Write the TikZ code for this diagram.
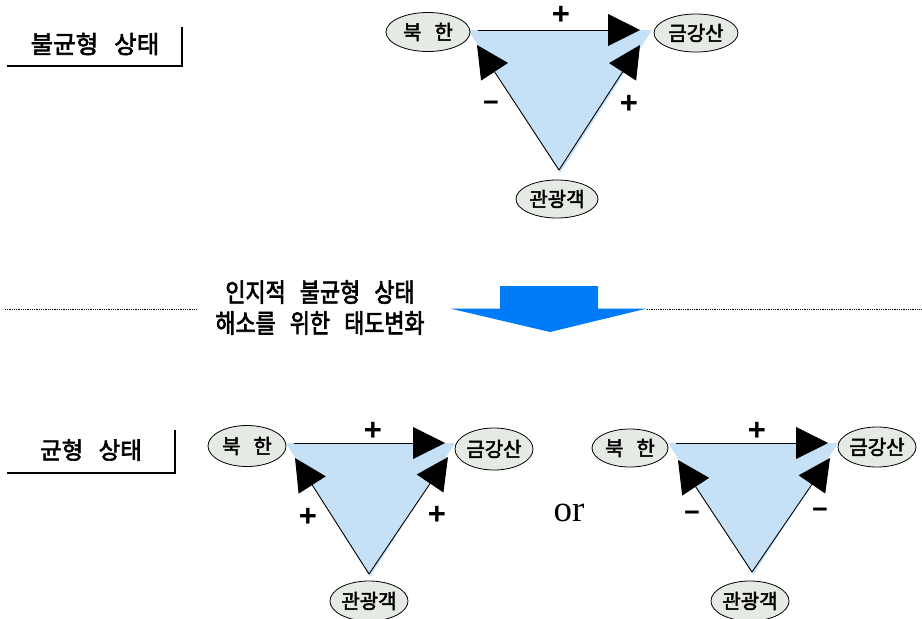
\documentclass[tikz,border=0pt]{standalone}
\usepackage{fontspec}
\newfontfamily\krA{Noto Sans CJK KR}[WordSpace=1.6, FakeBold=2.5]
\newfontfamily\krB{Noto Sans CJK KR}[WordSpace=2.4, FakeBold=2.5]
\newfontfamily\krM{Noto Sans CJK KR}[WordSpace=2.9, FakeBold=2.5, FakeStretch=0.84]
\newfontfamily\krE{Noto Sans CJK KR}[WordSpace=2.9, FakeBold=2.5]
\newfontfamily\sgn{Liberation Sans}
\newfontfamily\serifor{Liberation Serif}
\usetikzlibrary{arrows.meta,shapes.geometric}
\definecolor{triblue}{HTML}{C6E1F6}
\definecolor{ellgray}{HTML}{E6EAE4}
\definecolor{bigblue}{HTML}{007CF8}
\begin{document}
\begin{tikzpicture}[x=1pt,y=-1pt,
  tri/.style={fill=triblue},
  ell/.style={draw, ellipse, fill=ellgray, line width=0.8pt, inner sep=0pt,
    font=\krE\fontsize{20}{20}\selectfont},
  arr/.style={line width=0.9pt, -{Triangle[length=32pt,width=32pt]}},
  sign/.style={font=\sgn\bfseries\fontsize{31}{31}\selectfont, inner sep=0pt},
  minus/.style={font=\sgn\bfseries\fontsize{27}{27}\selectfont, inner sep=0pt},
  titleA/.style={font=\krA\fontsize{24.5}{25}\selectfont, inner sep=0pt},
  titleB/.style={font=\krB\fontsize{23.5}{24}\selectfont, inner sep=0pt},
  midtext/.style={font=\krM\fontsize{26}{26}\selectfont, inner sep=0pt},
  frame/.style={line width=2.4pt},
  dotline/.style={line width=0.8pt, dash pattern=on 0.9pt off 0.9pt}
]
\useasboundingbox (0,0) rectangle (922,619);

% ---------- top: unbalanced ----------
\node[titleA] (tA) at (95,44) {불균형 상태};
\coordinate (fA1) at (7,66); \coordinate (fA2) at (182,66); \coordinate (fA3) at (182,27);
\draw[frame] (fA1) -- (fA2) -- (fA3);

\coordinate (A1) at (468,30); \coordinate (B1) at (652,30); \coordinate (C1) at (560,173);
\fill[tri] (A1) -- (B1) -- (C1) -- cycle;
\node[ell, minimum width=84pt, minimum height=39pt] (nk1) at (428,32) {북 한};
\node[ell, minimum width=84pt, minimum height=38pt] (gk1) at (696,33) {금강산};
\node[ell, minimum width=82pt, minimum height=38pt] (tr1) at (557,199) {관광객};
\coordinate (s1) at (478,30); \coordinate (t1) at (640,30);
\coordinate (l1) at (477,45); \coordinate (r1) at (640,45); \coordinate (c1) at (559,170);
\draw[arr] (s1) -- (t1);
\draw[arr] (c1) -- (l1);
\draw[arr] (c1) -- (r1);
\node[sign] (p1a) at (561,15) {+};
\node[minus] (p1b) at (491,106) {−};
\node[sign] (p1c) at (629,104) {+};

% ---------- middle ----------
\node[midtext] (m1) at (320,292) {인지적 불균형 상태};
\node[midtext] (m2) at (320,323) {해소를 위한 태도변화};
\coordinate (d1) at (5,309); \coordinate (d2) at (197,309);
\coordinate (d3) at (647,309); \coordinate (d4) at (922,309);
\draw[dotline] (d1) -- (d2);
\draw[dotline] (d3) -- (d4);
\fill[bigblue] (500,286) -- (598,286) -- (598,308.5) -- (647,308.5) -- (550,332) -- (450,308.5) -- (500,308.5) -- cycle;

% ---------- bottom: balanced ----------
\node[titleB] (tB) at (91,450) {균형 상태};
\coordinate (fB1) at (7,473); \coordinate (fB2) at (175,473); \coordinate (fB3) at (175,430);
\draw[frame] (fB1) -- (fB2) -- (fB3);

% left triangle
\coordinate (A2) at (286,443); \coordinate (B2) at (455,443); \coordinate (C2) at (370,577);
\fill[tri] (A2) -- (B2) -- (C2) -- cycle;
\node[ell, minimum width=78pt, minimum height=41pt] (nk2) at (247,446) {북 한};
\node[ell, minimum width=74pt, minimum height=42pt] (gk2) at (494,449) {금강산};
\node[ell, minimum width=77pt, minimum height=40pt] (tr2) at (369,601) {관광객};
\coordinate (s2) at (294,443); \coordinate (t2) at (445,443);
\coordinate (l2) at (295,458); \coordinate (r2) at (448,457); \coordinate (c2) at (369,574);
\draw[arr] (s2) -- (t2);
\draw[arr] (c2) -- (l2);
\draw[arr] (c2) -- (r2);
\node[sign] (p2a) at (373,431) {+};
\node[sign] (p2b) at (308,517) {+};
\node[sign] (p2c) at (437,515) {+};

\node[font=\serifor\fontsize{37}{37}\selectfont, inner sep=0pt] (or) at (569,513) {or};

% right triangle
\coordinate (A3) at (668,443); \coordinate (B3) at (838,443); \coordinate (C3) at (753,575);
\fill[tri] (A3) -- (B3) -- (C3) -- cycle;
\node[ell, minimum width=76pt, minimum height=38pt] (nk3) at (630,448) {북 한};
\node[ell, minimum width=73pt, minimum height=40pt] (gk3) at (877,447) {금강산};
\node[ell, minimum width=75pt, minimum height=40pt] (tr3) at (750,601) {관광객};
\coordinate (s3) at (676,443); \coordinate (t3) at (828,443);
\coordinate (l3) at (678,460); \coordinate (r3) at (830,458); \coordinate (c3) at (752,572);
\draw[arr] (s3) -- (t3);
\draw[arr] (c3) -- (l3);
\draw[arr] (c3) -- (r3);
\node[sign] (p3a) at (757,431) {+};
\node[minus] (p3b) at (692,516) {−};
\node[minus] (p3c) at (820,513) {−};
\end{tikzpicture}
\end{document}
